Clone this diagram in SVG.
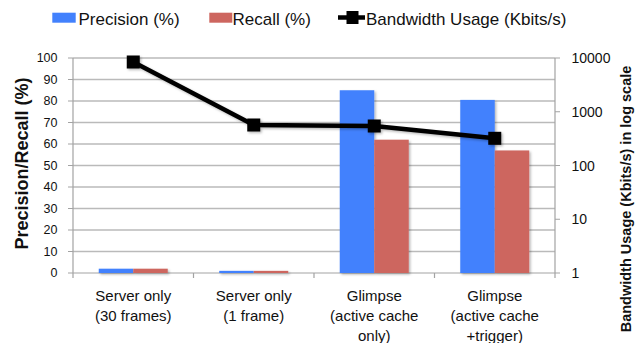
<svg xmlns="http://www.w3.org/2000/svg" width="635" height="343" viewBox="0 0 635 343">
  <style>
    text { font-family: "Liberation Sans", Arial, sans-serif; fill: #111; }
    .legend { font-size: 17px; }
    .tickL { font-size: 12.5px; text-anchor: end; }
    .tickR { font-size: 14px; text-anchor: start; }
    .cat { font-size: 15px; text-anchor: middle; }
    .title { font-weight: bold; text-anchor: middle; }
    .grid { stroke: #bababa; stroke-width: 1.5; }
    .axis { stroke: #a3a3a3; stroke-width: 1.2; fill: none; }
    .prec { fill: #4281fd; }
    .rec { fill: #cd665f; }
    .bw { stroke: #000; stroke-width: 4.5; fill: none; stroke-linejoin: round; }
    .mk { fill: #000; }
  </style>
  <defs>
    <filter id="shadow" x="-20%" y="-20%" width="140%" height="140%">
      <feDropShadow dx="1.5" dy="1.5" stdDeviation="1" flood-color="#000" flood-opacity="0.28"/>
    </filter>
  </defs>
  <rect width="635" height="343" fill="#fff"/>

  <!-- legend -->
  <g id="legend">
    <rect class="prec" x="52.3" y="12.7" width="23.4" height="10"/>
    <text class="legend" x="78.5" y="25">Precision (%)</text>
    <rect class="rec" x="209.3" y="12.7" width="23" height="10"/>
    <text class="legend" x="232.5" y="25">Recall (%)</text>
    <line class="bw" x1="338" y1="17.5" x2="365" y2="17.5"/>
    <rect class="mk" x="346.5" y="11" width="12" height="13"/>
    <text class="legend" x="366" y="25">Bandwidth Usage (Kbits/s)</text>
  </g>

  <!-- gridlines and axes -->
  <g id="grid">
    <line class="grid" x1="73" y1="58" x2="555" y2="58"/>
    <line class="grid" x1="73" y1="79.5" x2="555" y2="79.5"/>
    <line class="grid" x1="73" y1="101" x2="555" y2="101"/>
    <line class="grid" x1="73" y1="122.5" x2="555" y2="122.5"/>
    <line class="grid" x1="73" y1="144" x2="555" y2="144"/>
    <line class="grid" x1="73" y1="165.5" x2="555" y2="165.5"/>
    <line class="grid" x1="73" y1="187" x2="555" y2="187"/>
    <line class="grid" x1="73" y1="208.5" x2="555" y2="208.5"/>
    <line class="grid" x1="73" y1="230" x2="555" y2="230"/>
    <line class="grid" x1="73" y1="251.5" x2="555" y2="251.5"/>
  </g>
  <g id="axes">
    <!-- left axis with ticks -->
    <path class="axis" d="M73,58 V273 M68,58 H73 M68,79.5 H73 M68,101 H73 M68,122.5 H73 M68,144 H73 M68,165.5 H73 M68,187 H73 M68,208.5 H73 M68,230 H73 M68,251.5 H73 M68,273 H73"/>
    <!-- right axis (log) with ticks -->
    <path class="axis" d="M555,58 V273 M555,58 H560 M555,111.75 H560 M555,165.5 H560 M555,219.25 H560 M555,273 H560"/>
    <!-- category axis -->
    <path class="axis" d="M73,273 H555 M73,273 V278 M193.5,273 V278 M314,273 V278 M434.5,273 V278 M555,273 V278"/>
  </g>

  <!-- left tick labels -->
  <g id="ticks-left">
    <text class="tickL" x="57.5" y="62">100</text>
    <text class="tickL" x="57.5" y="83.5">90</text>
    <text class="tickL" x="57.5" y="105">80</text>
    <text class="tickL" x="57.5" y="126.5">70</text>
    <text class="tickL" x="57.5" y="148">60</text>
    <text class="tickL" x="57.5" y="169.5">50</text>
    <text class="tickL" x="57.5" y="191">40</text>
    <text class="tickL" x="57.5" y="212.5">30</text>
    <text class="tickL" x="57.5" y="234">20</text>
    <text class="tickL" x="57.5" y="255.5">10</text>
    <text class="tickL" x="57.5" y="277">0</text>
  </g>
  <!-- right tick labels -->
  <g id="ticks-right">
    <text class="tickR" x="571.5" y="63">10000</text>
    <text class="tickR" x="571.5" y="116.75">1000</text>
    <text class="tickR" x="571.5" y="170.5">100</text>
    <text class="tickR" x="571.5" y="224.25">10</text>
    <text class="tickR" x="571.5" y="278">1</text>
  </g>

  <!-- axis titles -->
  <text class="title" font-size="18" transform="translate(28,163.5) rotate(-90)">Precision/Recall (%)</text>
  <text class="title" font-size="14.5" transform="translate(630.5,199) rotate(-90)">Bandwidth Usage (Kbits/s) in log scale</text>

  <!-- bars -->
  <g id="bars" filter="url(#shadow)">
    <rect class="prec" x="98.75" y="268.7" width="34.5" height="4.3"/>
    <rect class="rec" x="133.25" y="268.7" width="34.5" height="4.3"/>
    <rect class="prec" x="219.25" y="270.85" width="34.5" height="2.15"/>
    <rect class="rec" x="253.75" y="270.85" width="34.5" height="2.15"/>
    <rect class="prec" x="339.75" y="90.25" width="34.5" height="182.75"/>
    <rect class="rec" x="374.25" y="139.7" width="34.5" height="133.3"/>
    <rect class="prec" x="460.25" y="99.9" width="34.5" height="173.1"/>
    <rect class="rec" x="494.75" y="150.45" width="34.5" height="122.55"/>
  </g>

  <!-- bandwidth line -->
  <g id="connectors" filter="url(#shadow)">
    <polyline class="bw" points="133.25,62 253.75,125 374.25,126 494.75,138.3"/>
    <rect class="mk" x="126.75" y="55.5" width="13" height="13"/>
    <rect class="mk" x="247.25" y="118.5" width="13" height="13"/>
    <rect class="mk" x="367.75" y="119.5" width="13" height="13"/>
    <rect class="mk" x="488.25" y="131.8" width="13" height="13"/>
  </g>

  <!-- category labels -->
  <g id="cat-1">
    <text class="cat" x="133.25" y="300.7">Server only</text>
    <text class="cat" x="133.25" y="320.7">(30 frames)</text>
  </g>
  <g id="cat-2">
    <text class="cat" x="253.75" y="300.7">Server only</text>
    <text class="cat" x="253.75" y="320.7">(1 frame)</text>
  </g>
  <g id="cat-3">
    <text class="cat" x="374.25" y="300.7">Glimpse</text>
    <text class="cat" x="374.25" y="320.7">(active cache</text>
    <text class="cat" x="374.25" y="340.7">only)</text>
  </g>
  <g id="cat-4">
    <text class="cat" x="494.75" y="300.7">Glimpse</text>
    <text class="cat" x="494.75" y="320.7">(active cache</text>
    <text class="cat" x="494.75" y="340.7">+trigger)</text>
  </g>
</svg>
